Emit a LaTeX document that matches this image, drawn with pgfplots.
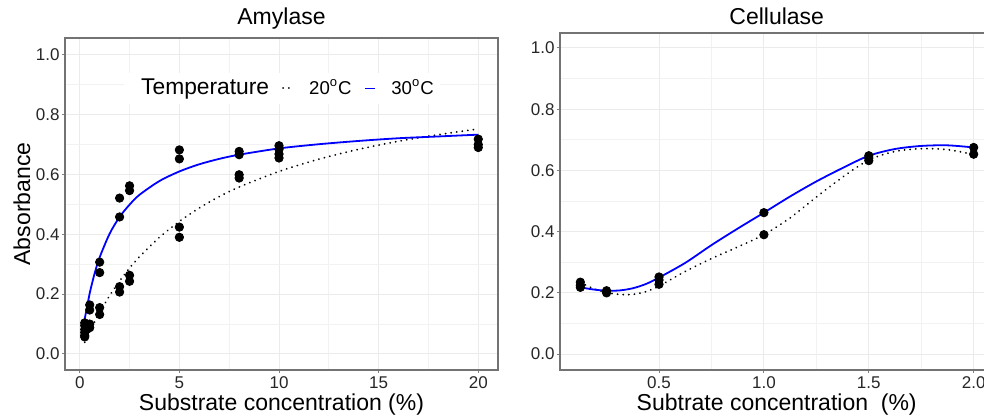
\documentclass[border=0pt]{standalone}
\usepackage{pgfplots}
\pgfplotsset{compat=1.18}
\usepackage{fontspec}
\setmainfont{Liberation Sans}

\pgfplotsset{
  every axis title/.style={at={(0.5,1)}, anchor=base},
  ggpanel/.style={
    scale only axis,
    ytick={0,0.2,0.4,0.6,0.8,1.0},
    yticklabels={0.0,0.2,0.4,0.6,0.8,1.0},
    minor x tick num=1, minor y tick num=1,
    tick pos=left,
    grid=both,
    major grid style={draw=black!8, line width=0.5pt},
    minor grid style={draw=black!5, line width=0.35pt},
    axis line style={draw=black!55, line width=0.6pt},
    tick align=outside,
    major tick length=1.5pt, minor tick length=0pt,
    tick style={draw=black!50, line width=0.5pt},
    tick label style={font=\fontsize{8.5}{10}\selectfont, text=black!85, inner sep=0pt},
    xticklabel style={yshift=-1.8pt},
    yticklabel style={xshift=-1pt},
    label style={font=\fontsize{11.5}{13}\selectfont},
    title style={font=\fontsize{11.5}{13}\selectfont},
    xlabel style={at={([yshift=-20pt]axis description cs:0.5,0)}, anchor=base},
  },
  pts/.style={only marks, mark=*, mark size=2.1pt, black, mark options={fill=black, draw=black}, forget plot},
  t20/.style={black, line width=1pt, dash pattern=on 0.01pt off 2.8pt, line cap=round},
  t30/.style={blue, line width=0.9pt},
}

\begin{document}
\begin{tikzpicture}
% Amylase
\begin{axis}[ggpanel,
  at={(32.5pt,23.5pt)}, anchor=south west,
  width=216.5pt, height=166pt,
  xmin=-0.74, xmax=20.99, ymin=-0.0535, ymax=1.056,
  xtick={0,5,10,15,20},
  xticklabels={0,5,10,15,20},
  title={Amylase},
  title style={at={([yshift=6.5pt]axis description cs:0.5,1)}},
  xlabel={Substrate concentration (\%)},
  ylabel={Absorbance},
  ylabel style={at={([xshift=-17.5pt]axis description cs:0,0.5)}, anchor=base},
  legend columns=-1,
  legend image code/.code={\draw[#1] (0pt,0pt) -- (5pt,0pt);},
  legend style={draw=none, fill=white, at={(0.501,0.848)}, anchor=center,
    font=\fontsize{9.3}{11}\selectfont, inner sep=1pt,
    cells={anchor=west},
    /tikz/every odd column/.append style={column sep=5.5pt},
    /tikz/every even column/.append style={column sep=4.5pt}},
]
\addplot[pts] coordinates {
  (0.25,0.104)(0.25,0.095)(0.25,0.082)(0.25,0.072)(0.25,0.062)(0.25,0.057)
  (0.5,0.164)(0.5,0.147)(0.5,0.100)(0.5,0.088)
  (1,0.307)(1,0.272)(1,0.155)(1,0.132)
  (2,0.521)(2,0.458)(2,0.225)(2,0.207)
  (2.5,0.562)(2.5,0.546)(2.5,0.263)(2.5,0.243)
  (5,0.682)(5,0.652)(5,0.424)(5,0.390)
  (8,0.677)(8,0.666)(8,0.599)(8,0.588)
  (10,0.696)(10,0.684)(10,0.668)(10,0.655)
  (20,0.718)(20,0.700)(20,0.690)};
\addplot[t20, smooth, forget plot] coordinates {
  (0.25,0.039)(0.5,0.075)(0.75,0.108)(1,0.139)(1.5,0.195)(2,0.244)(2.5,0.287)
  (3,0.325)(4,0.390)(5,0.443)(6,0.488)(7,0.526)(8,0.558)(10,0.610)(12,0.651)
  (14,0.684)(16,0.711)(18,0.733)(20,0.752)};
\addplot[t30, smooth, forget plot] coordinates {
  (0.25,0.117)(0.5,0.203)(0.75,0.270)(1,0.323)(1.5,0.402)(2,0.458)(2.5,0.499)
  (3,0.532)(4,0.578)(5,0.610)(6,0.634)(7,0.652)(8,0.666)(10,0.687)(12,0.701)
  (14,0.712)(16,0.721)(18,0.727)(20,0.733)};
\addlegendimage{empty legend}
\addlegendentry{\fontsize{11.4}{13}\selectfont Temperature}
\addlegendimage{t20}
\addlegendentry{20\textsuperscript{o}C}
\addlegendimage{t30}
\addlegendentry{30\textsuperscript{o}C}
\end{axis}

% Cellulase
\begin{axis}[ggpanel,
  at={(280pt,23.5pt)}, anchor=south west,
  width=216.7pt, height=168.5pt,
  xmin=0.028, xmax=2.094, ymin=-0.052, ymax=1.049,
  xtick={0.5,1.0,1.5,2.0},
  xticklabels={0.5,1.0,1.5,2.0},
  title={Cellulase},
  title style={at={([yshift=4pt]axis description cs:0.5,1)}},
  xlabel={Subtrate concentration\ \ (\%)},
]
\addplot[pts] coordinates {
  (0.125,0.235)(0.125,0.225)(0.125,0.218)
  (0.25,0.207)(0.25,0.200)
  (0.5,0.252)(0.5,0.242)(0.5,0.228)
  (1.0,0.462)(1.0,0.390)
  (1.5,0.648)(1.5,0.640)(1.5,0.632)
  (2.0,0.675)(2.0,0.653)};
\addplot[t20, smooth, forget plot] coordinates {
  (0.125,0.234)(0.1875,0.214)(0.25,0.201)(0.3125,0.195)(0.375,0.195)(0.4375,0.204)
  (0.5,0.222)(0.625,0.270)(0.75,0.312)(0.875,0.350)(1.0,0.390)(1.125,0.445)
  (1.25,0.513)(1.375,0.578)(1.5,0.634)(1.625,0.662)(1.75,0.671)(1.875,0.668)(2.0,0.652)};
\addplot[t30, smooth, forget plot] coordinates {
  (0.125,0.218)(0.1875,0.211)(0.25,0.207)(0.3125,0.208)(0.375,0.215)(0.4375,0.229)
  (0.5,0.250)(0.625,0.298)(0.75,0.356)(0.875,0.410)(1.0,0.462)(1.125,0.515)
  (1.25,0.564)(1.375,0.608)(1.5,0.648)(1.625,0.670)(1.75,0.680)(1.875,0.682)(2.0,0.675)};
\end{axis}

\pgfresetboundingbox
\useasboundingbox (0,0) rectangle (492pt,208.5pt);
\end{tikzpicture}
\end{document}
